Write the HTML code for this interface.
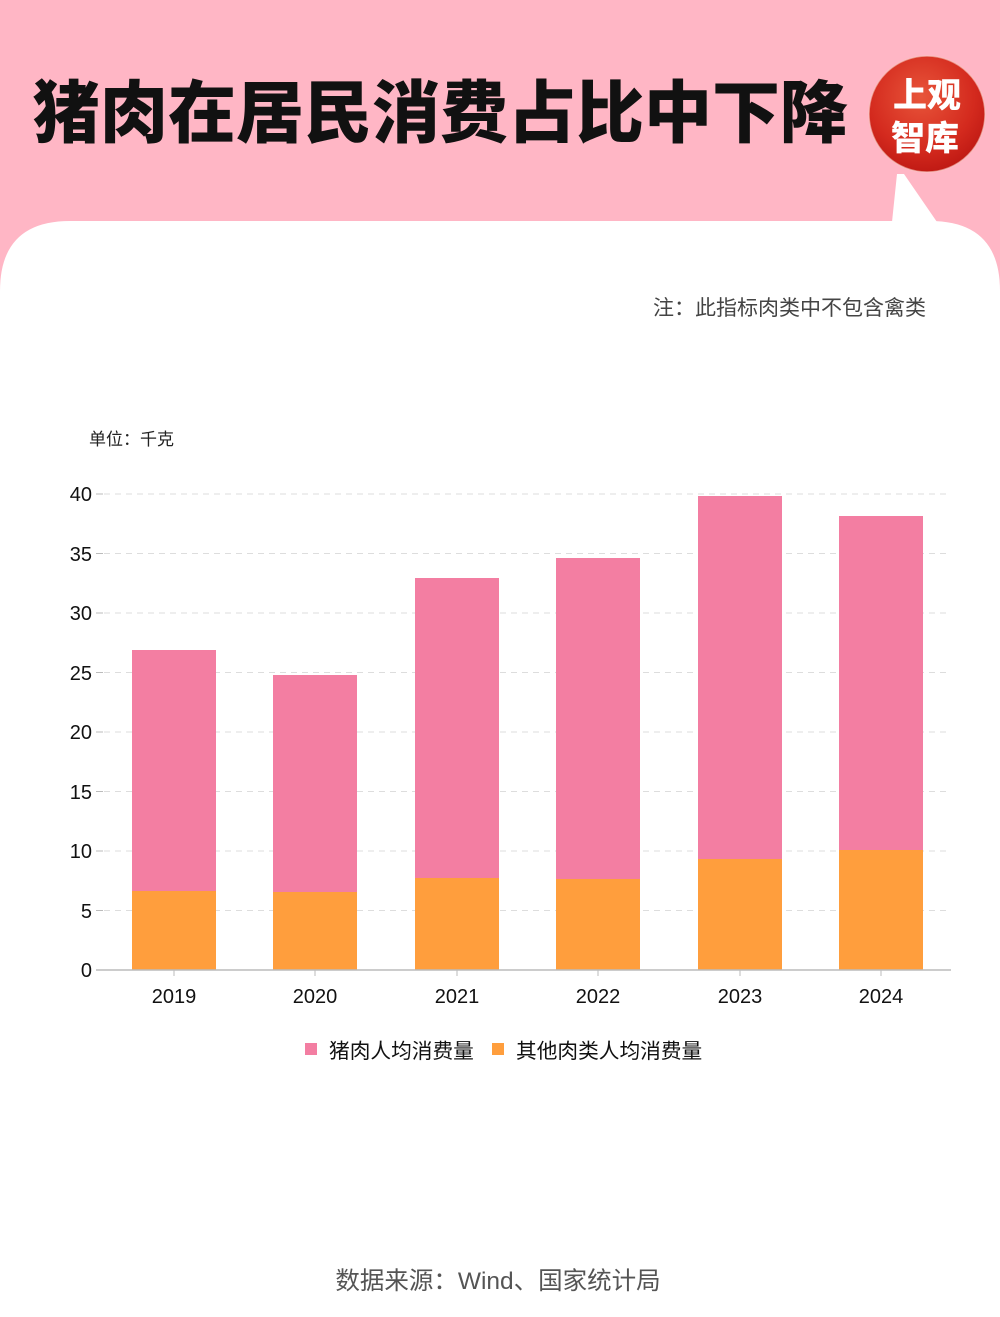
<!DOCTYPE html>
<html><head><meta charset="utf-8">
<style>
html,body{margin:0;padding:0;background:#FFB6C5;}
svg{display:block;}
text{font-family:"Liberation Sans","Noto Sans CJK SC",sans-serif;}
</style></head>
<body>
<svg width="1000" height="1317" viewBox="0 0 1000 1317" xmlns="http://www.w3.org/2000/svg">
<defs>
<radialGradient id="rg" cx="45%" cy="35%" r="65%">
<stop offset="0" stop-color="#E8553A"/>
<stop offset="0.7" stop-color="#D42A1E"/>
<stop offset="1" stop-color="#C01A14"/>
</radialGradient>
</defs>
<rect width="1000" height="1317" fill="#FFB6C5"/>
<path d="M0 1317 L0 291 Q0 221 70 221 L930 221 Q1000 221 1000 291 L1000 1317 Z" fill="#fff"/>
<polygon points="897,174 904,174 937,222 892,222" fill="#fff"/>
<text x="32" y="137" font-size="68" fill="#111" style="font-family:'Noto Sans CJK SC',sans-serif;font-weight:900">猪肉在居民消费占比中下降</text>
<circle cx="927" cy="114" r="58" fill="url(#rg)"/>
<circle cx="927" cy="114" r="58" fill="none" stroke="#F7C8C0" stroke-width="1.5" opacity="0.6"/>
<text x="927" y="107" font-size="34" fill="#fff" text-anchor="middle" style="font-family:'Noto Sans CJK SC',sans-serif;font-weight:900">上观</text>
<text x="925" y="150" font-size="34" fill="#fff" text-anchor="middle" style="font-family:'Noto Sans CJK SC',sans-serif;font-weight:900">智库</text>
<text x="926" y="315" font-size="21" fill="#444" text-anchor="end">注：此指标肉类中不包含禽类</text>
<text x="89" y="445" font-size="17" fill="#222">单位：千克</text>
<g stroke="#ddd" stroke-width="1" stroke-dasharray="6,5">
<line x1="104" x2="950" y1="494" y2="494"/>
<line x1="104" x2="950" y1="553.5" y2="553.5"/>
<line x1="104" x2="950" y1="613" y2="613"/>
<line x1="104" x2="950" y1="672.5" y2="672.5"/>
<line x1="104" x2="950" y1="732" y2="732"/>
<line x1="104" x2="950" y1="791.5" y2="791.5"/>
<line x1="104" x2="950" y1="851" y2="851"/>
<line x1="104" x2="950" y1="910.5" y2="910.5"/>
</g>
<g stroke="#bbb" stroke-width="1">
<line x1="96" x2="103" y1="494" y2="494"/>
<line x1="96" x2="103" y1="553.5" y2="553.5"/>
<line x1="96" x2="103" y1="613" y2="613"/>
<line x1="96" x2="103" y1="672.5" y2="672.5"/>
<line x1="96" x2="103" y1="732" y2="732"/>
<line x1="96" x2="103" y1="791.5" y2="791.5"/>
<line x1="96" x2="103" y1="851" y2="851"/>
<line x1="96" x2="103" y1="910.5" y2="910.5"/>
</g>
<g font-size="20" fill="#111" text-anchor="end">
<text x="92" y="501">40</text>
<text x="92" y="561">35</text>
<text x="92" y="620">30</text>
<text x="92" y="680">25</text>
<text x="92" y="739">20</text>
<text x="92" y="799">15</text>
<text x="92" y="858">10</text>
<text x="92" y="918">5</text>
<text x="92" y="977">0</text>
</g>
<g fill="#F37EA2">
<rect x="132" y="650" width="84" height="241"/>
<rect x="273" y="675" width="84" height="217"/>
<rect x="415" y="578" width="84" height="300"/>
<rect x="556" y="558" width="84" height="321"/>
<rect x="698" y="496" width="84" height="363"/>
<rect x="839" y="516" width="84" height="334"/>
</g>
<g fill="#FF9E3D">
<rect x="132" y="891" width="84" height="79"/>
<rect x="273" y="892" width="84" height="78"/>
<rect x="415" y="878" width="84" height="92"/>
<rect x="556" y="879" width="84" height="91"/>
<rect x="698" y="859" width="84" height="111"/>
<rect x="839" y="850" width="84" height="120"/>
</g>
<line x1="96" x2="951" y1="970" y2="970" stroke="#bbb" stroke-width="1.5"/>
<g stroke="#bbb" stroke-width="1">
<line x1="174" x2="174" y1="970" y2="976"/>
<line x1="315" x2="315" y1="970" y2="976"/>
<line x1="457" x2="457" y1="970" y2="976"/>
<line x1="598" x2="598" y1="970" y2="976"/>
<line x1="740" x2="740" y1="970" y2="976"/>
<line x1="881" x2="881" y1="970" y2="976"/>
</g>
<g font-size="20" fill="#111" text-anchor="middle">
<text x="174" y="1003">2019</text>
<text x="315" y="1003">2020</text>
<text x="457" y="1003">2021</text>
<text x="598" y="1003">2022</text>
<text x="740" y="1003">2023</text>
<text x="881" y="1003">2024</text>
</g>
<rect x="305" y="1043" width="12" height="12" fill="#F37EA2"/>
<text x="329" y="1058" font-size="20.7" fill="#111">猪肉人均消费量</text>
<rect x="492" y="1043" width="12" height="12" fill="#FF9E3D"/>
<text x="516" y="1058" font-size="20.7" fill="#111">其他肉类人均消费量</text>
<text x="498" y="1289" font-size="24.5" fill="#555" text-anchor="middle">数据来源：Wind、国家统计局</text>
</svg>
</body></html>
